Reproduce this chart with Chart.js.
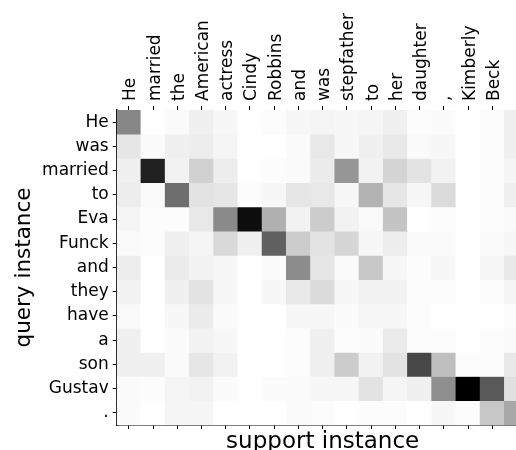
<!DOCTYPE html>
<html>
<head>
<meta charset="utf-8">
<script src="https://cdn.jsdelivr.net/npm/chart.js@4/dist/chart.umd.min.js"></script>
<style>
  html, body { margin: 0; padding: 0; background: #fff; }
  #wrap { width: 516px; height: 450px; overflow: hidden; }
  canvas { display: block; }
</style>
</head>
<body>
<div id="wrap"><canvas id="heat" width="540" height="460"></canvas></div>
<script>
// tokens of the two sentences
const supportTokens = ['He', 'married', 'the', 'American', 'actress', 'Cindy', 'Robbins', 'and', 'was',
  'stepfather', 'to', 'her', 'daughter', ',', 'Kimberly', 'Beck', '.'];
const queryTokens = ['He', 'was', 'married', 'to', 'Eva', 'Funck', 'and', 'they', 'have', 'a', 'son', 'Gustav', '.'];

// attention weights, one row per query token (0 = white, 1 = black)
const weights = [
  [0.47, 0, 0.02, 0.06, 0.03, 0, 0.01, 0.03, 0.04, 0.03, 0.04, 0.06, 0.01, 0.015, 0, 0.01, 0.06],
  [0.10, 0.02, 0.06, 0.07, 0.04, 0, 0, 0.02, 0.09, 0.03, 0.06, 0.09, 0.02, 0.03, 0, 0.01, 0.06],
  [0.06, 0.87, 0.05, 0.18, 0.07, 0, 0.01, 0.02, 0.08, 0.41, 0.05, 0.17, 0.11, 0.05, 0, 0.01, 0.04],
  [0.07, 0.02, 0.57, 0.11, 0.10, 0.01, 0.03, 0.10, 0.09, 0.03, 0.30, 0.10, 0.03, 0.14, 0, 0.01, 0.06],
  [0.04, 0.01, 0.01, 0.09, 0.46, 0.95, 0.31, 0.05, 0.20, 0.05, 0.02, 0.23, 0, 0.01, 0, 0.01, 0.02],
  [0.02, 0.01, 0.06, 0.04, 0.15, 0.06, 0.62, 0.20, 0.11, 0.16, 0.03, 0.07, 0.02, 0.02, 0, 0.02, 0.03],
  [0.07, 0, 0.08, 0.05, 0.03, 0, 0.02, 0.45, 0.10, 0.02, 0.22, 0.03, 0.01, 0.03, 0, 0.03, 0.09],
  [0.05, 0, 0.06, 0.11, 0.03, 0, 0.03, 0.09, 0.14, 0.03, 0.05, 0.05, 0.01, 0.01, 0, 0.01, 0.04],
  [0.02, 0, 0.03, 0.08, 0.015, 0, 0, 0.03, 0.03, 0.015, 0.03, 0.03, 0.01, 0, 0, 0, 0.01],
  [0.06, 0, 0.015, 0.05, 0.03, 0, 0, 0.01, 0.06, 0.01, 0.015, 0.08, 0.01, 0.01, 0, 0.01, 0.02],
  [0.06, 0.06, 0.02, 0.10, 0.05, 0, 0, 0.01, 0.06, 0.20, 0.05, 0.11, 0.72, 0.25, 0.01, 0.01, 0.09],
  [0.015, 0.01, 0.04, 0.05, 0.015, 0, 0.015, 0.015, 0.03, 0.03, 0.11, 0.04, 0.06, 0.44, 1.0, 0.65, 0.12],
  [0.015, 0, 0.04, 0.04, 0, 0, 0, 0.015, 0.01, 0, 0.01, 0.01, 0, 0.03, 0.01, 0.22, 0.34]
];

function grey(v) {
  const g = Math.round(255 * (1 - v));
  return `rgb(${g},${g},${g})`;
}

// each query row is a dataset of floating bars spanning [row, row + 1]
const datasets = queryTokens.map((tok, r) => ({
  label: tok,
  data: supportTokens.map(() => [r, r + 1]),
  backgroundColor: weights[r].map(grey),
  borderWidth: 0,
  barPercentage: 1,
  categoryPercentage: 1,
  grouped: false
}));

const tickFont = { family: 'DejaVu Sans', size: 17 };

new Chart(document.getElementById('heat'), {
  type: 'bar',
  data: { labels: supportTokens, datasets },
  options: {
    responsive: false,
    animation: false,
    devicePixelRatio: 1,
    layout: { padding: { right: 11.4 } },
    plugins: { legend: { display: false }, tooltip: { enabled: false } },
    scales: {
      x: {
        type: 'category',
        position: 'top',
        offset: true,
        ticks: {
          minRotation: 90, maxRotation: 90, autoSkip: false, font: tickFont, color: '#000',
          padding: 5, labelOffset: 22.5
        },
        grid: { offset: false, drawOnChartArea: false, tickLength: 4, tickColor: '#000' },
        border: { color: '#999', width: 1 },
        afterFit: s => { s.height = 110; }
      },
      x2: {
        type: 'category',
        position: 'bottom',
        labels: supportTokens,
        offset: true,
        ticks: { display: false },
        grid: { offset: false, drawOnChartArea: false, tickLength: 4, tickColor: '#000' },
        border: { color: '#000', width: 1.5 },
        title: {
          display: true, text: 'support instance', color: '#000',
          font: { family: 'DejaVu Sans', size: 23 }, padding: { top: 0, bottom: 4.5 }
        },
        afterFit: s => { s.height = 35; }
      },
      y: {
        type: 'linear',
        min: 0,
        max: queryTokens.length,
        reverse: true,
        afterBuildTicks: axis => { axis.ticks = queryTokens.map((_, i) => ({ value: i + 0.5 })); },
        ticks: {
          autoSkip: false, font: tickFont, color: '#000', padding: 4,
          callback: (v, i) => queryTokens[i]
        },
        grid: { drawOnChartArea: false, tickLength: 4, tickColor: '#000' },
        border: { color: '#000', width: 1.5 },
        title: {
          display: true, text: 'query instance', color: '#000',
          font: { family: 'DejaVu Sans', size: 21.5 }, padding: { top: 12, bottom: 0 }
        },
        afterFit: s => { s.width = 116.7; }
      }
    }
  }
});
</script>
</body>
</html>
